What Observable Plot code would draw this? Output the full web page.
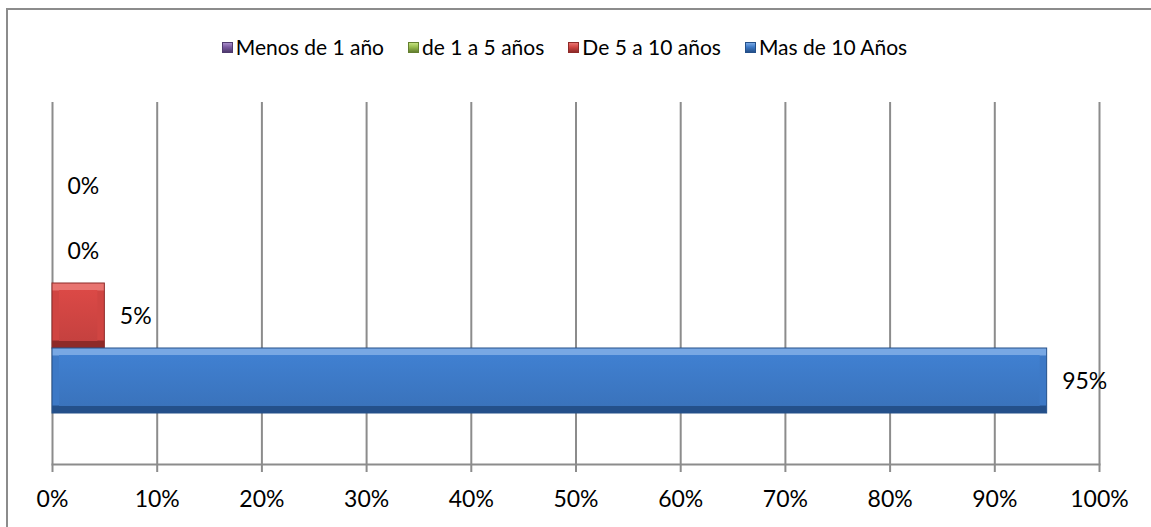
<!DOCTYPE html>
<html>
<head>
<meta charset="utf-8">
<script src="https://cdn.jsdelivr.net/npm/d3@7"></script>
<script src="https://cdn.jsdelivr.net/npm/@observablehq/plot@0.6"></script>
<style>
  html, body { margin: 0; padding: 0; background: #fff; }
  #wrap { position: relative; width: 1151px; height: 527px; overflow: hidden; font-family: Lato, "Open Sans", sans-serif; }
  #border { position: absolute; left: 6px; top: 8px; width: 1160px; height: 540px; border: 2px solid #8c8c8c; box-sizing: border-box; }
  #legend { position: absolute; left: 0; top: 0; width: 1151px; height: 100px; display: flex; justify-content: center; align-items: flex-start; padding-top: 34px; box-sizing: border-box; gap: 24px; font-size: 21px; color: #000; padding-right: 22px; }
  .item { display: flex; align-items: center; gap: 3px; line-height: 26px; }
  .sw { width: 11px; height: 11px; box-sizing: border-box; }
  #chart { position: absolute; left: 0; top: 100px; }
</style>
</head>
<body>
<div id="wrap">
  <div id="border"></div>
  <div id="legend"></div>
  <div id="chart"></div>
</div>
<script>
// Data
const categories = ["Menos de 1 año", "de 1 a 5 años", "De 5 a 10 años", "Mas de 10 Años"];
const values = [0, 0, 0.05, 0.95];
const labels = ["0%", "0%", "5%", "95%"];
const xTicks = [0, 0.1, 0.2, 0.3, 0.4, 0.5, 0.6, 0.7, 0.8, 0.9, 1.0];
const xTickLabels = ["0%", "10%", "20%", "30%", "40%", "50%", "60%", "70%", "80%", "90%", "100%"];
const baseColors = ["#8064A2", "#9BBB59", "#C0504D", "#4F81BD"];
const lightColors = ["#a78cc8", "#c3e07e", "#e87470", "#78a8e4"];
const midColors = ["#7a5aa0", "#98bc4e", "#d04542", "#3d79c6"];
const darkColors = ["#4f3a6e", "#647f2f", "#8e2a28", "#24508a"];

const rows = categories.map((c, i) => ({cat: c, value: values[i], label: labels[i], idx: i}));

// Legend
const legend = document.getElementById("legend");
categories.forEach((c, i) => {
  const it = document.createElement("div");
  it.className = "item";
  const sw = document.createElement("div");
  sw.className = "sw";
  sw.style.background = `linear-gradient(to bottom, ${lightColors[i]} 0%, ${midColors[i]} 45%, ${darkColors[i]} 100%)`;
  sw.style.border = `1px solid ${darkColors[i]}`;
  const t = document.createElement("span");
  t.textContent = c;
  it.appendChild(sw);
  it.appendChild(t);
  legend.appendChild(it);
});

const gridColor = "#8c8c8c";
const fmt = (d) => xTickLabels[xTicks.indexOf(d)] ?? "";

const barMarks = [];
rows.forEach((r, i) => {
  barMarks.push(Plot.barX([r], {x: "value", y: "cat", fill: `url(#gOuter${i})`, stroke: darkColors[i], strokeWidth: 1}));
  barMarks.push(Plot.barX([r], {x: "value", y: "cat", fill: `url(#gInner${i})`, insetTop: 7, insetBottom: 7, insetLeft: 7, insetRight: 7}));
});

const svg = Plot.plot({
  width: 1151,
  height: 427,
  marginLeft: 52,
  marginRight: 52,
  marginTop: 2,
  marginBottom: 63,
  style: {fontFamily: "Lato, 'Open Sans', sans-serif", fontSize: "23px", color: "#000", background: "transparent", overflow: "visible"},
  x: {domain: [0, 1], ticks: xTicks, tickFormat: fmt, label: null},
  y: {domain: categories, paddingInner: 0, paddingOuter: 0.76, axis: null},
  marks: [
    Plot.ruleX(xTicks, {stroke: gridColor, strokeWidth: 2}),
    Plot.axisX({ticks: xTicks, tickFormat: fmt, tickSize: 8, tickPadding: 18, stroke: gridColor, strokeWidth: 2, fontSize: 23, fill: "#000", strokeOpacity: 1, label: null}),
    Plot.frame({anchor: "bottom", stroke: gridColor, strokeWidth: 2}),
    ...barMarks,
    Plot.text(rows, {x: "value", y: "cat", text: "label", textAnchor: "start", dx: 15, dy: 1, fill: "#000", fontSize: 23})
  ]
});

// Gradient definitions for the bevelled bar look
const defs = d3.select(svg).insert("defs", ":first-child");
baseColors.forEach((c, i) => {
  const go = defs.append("linearGradient").attr("id", `gOuter${i}`).attr("x1", 0).attr("y1", 0).attr("x2", 0).attr("y2", 1);
  go.append("stop").attr("offset", "0%").attr("stop-color", lightColors[i]);
  go.append("stop").attr("offset", "11%").attr("stop-color", lightColors[i]);
  go.append("stop").attr("offset", "12%").attr("stop-color", midColors[i]);
  go.append("stop").attr("offset", "88%").attr("stop-color", midColors[i]);
  go.append("stop").attr("offset", "89%").attr("stop-color", darkColors[i]);
  go.append("stop").attr("offset", "100%").attr("stop-color", darkColors[i]);
  const gi = defs.append("linearGradient").attr("id", `gInner${i}`).attr("x1", 0).attr("y1", 0).attr("x2", 0).attr("y2", 1);
  gi.append("stop").attr("offset", "0%").attr("stop-color", d3.color(midColors[i]).brighter(0.15).formatHex());
  gi.append("stop").attr("offset", "100%").attr("stop-color", d3.color(midColors[i]).darker(0.15).formatHex());
});

document.getElementById("chart").appendChild(svg);
</script>
</body>
</html>
